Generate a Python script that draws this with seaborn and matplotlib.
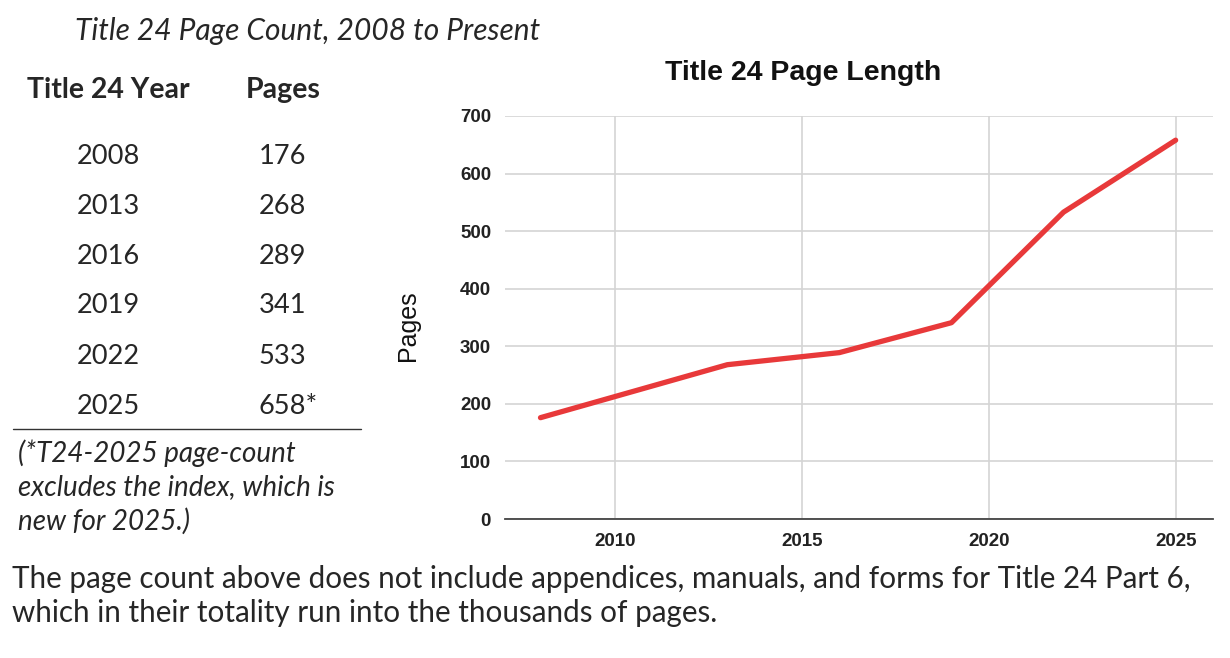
import matplotlib
matplotlib.use("Agg")
import matplotlib.pyplot as plt
import pandas as pd
import seaborn as sns

# data
years = [2008, 2013, 2016, 2019, 2022, 2025]
pages = [176, 268, 289, 341, 533, 658]
page_notes = ["", "", "", "", "", "*"]
x_ticks = [2010, 2015, 2020, 2025]
y_ticks = [0, 100, 200, 300, 400, 500, 600, 700]

W, H = 1230, 658


def fx(x):
    return x / W


def fy(y):
    return 1 - y / H


sns.set_theme(style="white")
plt.rcParams["font.family"] = ["Liberation Sans", "DejaVu Sans"]

fig = plt.figure(figsize=(W / 100, H / 100), dpi=100)
fig.patch.set_facecolor("white")

# chart on the right
ax = fig.add_axes([fx(505), fy(519), fx(1213) - fx(505), fy(116) - fy(519)])
df = pd.DataFrame({"Year": years, "Pages": pages})
sns.lineplot(data=df, x="Year", y="Pages", ax=ax, color="#e8393a", linewidth=3.8)

ax.set_xlim(2007.05, 2026.0)
ax.set_ylim(0, 700)
ax.set_xticks(x_ticks)
ax.set_yticks(y_ticks)
ax.grid(True, color="#d4d4d4", linewidth=1.2)
ax.set_axisbelow(True)
for side in ["top", "right", "left"]:
    ax.spines[side].set_visible(False)
ax.spines["bottom"].set_color("#444444")
ax.spines["bottom"].set_linewidth(1.3)
ax.tick_params(axis="both", length=0, labelsize=13.5, pad=10)
for lbl in ax.get_xticklabels() + ax.get_yticklabels():
    lbl.set_fontweight("bold")
    lbl.set_color("#222222")
ax.set_xlabel("")
ax.set_ylabel("")

fig.text(fx(803), fy(73), "Title 24 Page Length", ha="center", va="center",
         fontsize=20.5, fontweight="bold", color="#111111")
fig.text(fx(408), fy(326), "Pages", ha="center", va="center", rotation=90,
         fontsize=18, color="#111111")

# table on the left
tfont = ["Lato", "DejaVu Sans"]
fig.text(fx(75), fy(31), "Title 24 Page Count, 2008 to Present", ha="left",
         va="center", fontsize=21.5, style="italic", family=tfont)
fig.text(fx(27), fy(90), "Title 24 Year", ha="left", va="center",
         fontsize=20.5, fontweight="bold", family=tfont)
fig.text(fx(283), fy(90), "Pages", ha="center", va="center",
         fontsize=20.5, fontweight="bold", family=tfont)

row_y0, row_step = 156, 50
for i, (yr, pg, nt) in enumerate(zip(years, pages, page_notes)):
    yy = fy(row_y0 + i * row_step)
    fig.text(fx(108), yy, str(yr), ha="center", va="center", fontsize=19.6,
             family=tfont)
    fig.text(fx(259), yy, f"{pg}{nt}", ha="left", va="center", fontsize=19.6,
             family=tfont)

fig.add_artist(plt.Line2D([fx(13), fx(361)], [fy(429), fy(429)],
                          color="#333333", linewidth=1))

note_lines = ["(*T24-2025 page-count", "excludes the index, which is",
              "new for 2025.)"]
for i, line in enumerate(note_lines):
    fig.text(fx(18), fy(453 + i * 34), line, ha="left", va="center",
             fontsize=20, style="italic", family=tfont)

footer_lines = ["The page count above does not include appendices, manuals, and forms for Title 24 Part 6,",
                "which in their totality run into the thousands of pages."]
for i, line in enumerate(footer_lines):
    fig.text(fx(12), fy(588 + i * 34), line, ha="left", va="baseline",
             fontsize=21.3, family=tfont)

fig.savefig("out.png", dpi=100)
